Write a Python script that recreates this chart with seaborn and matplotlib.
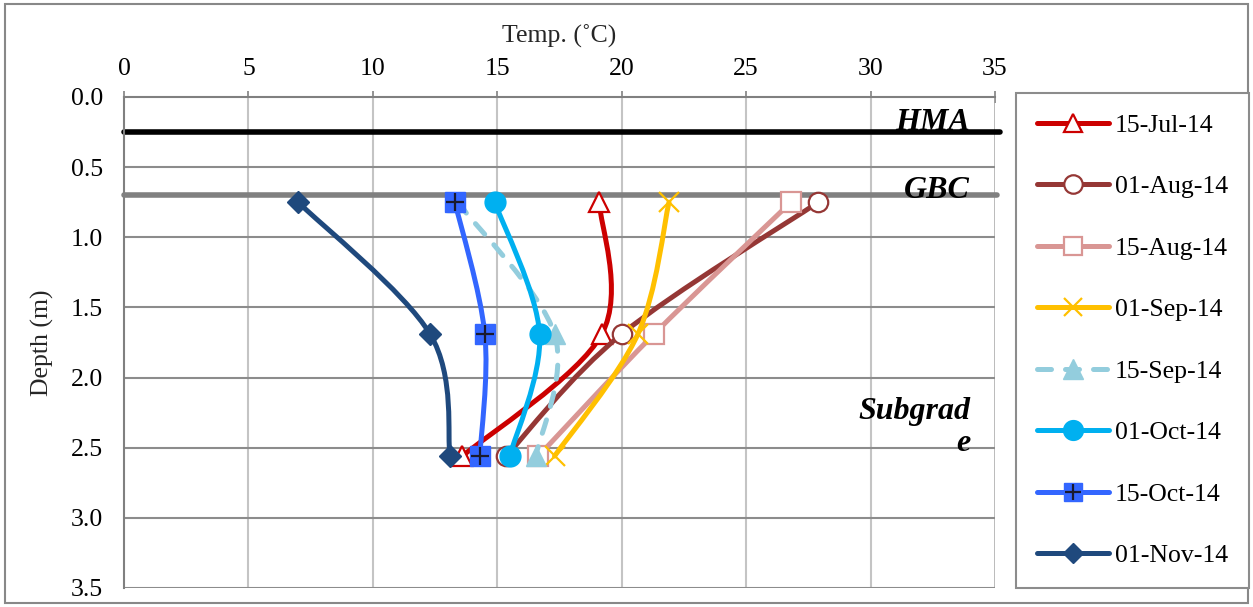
import numpy as np
import matplotlib
matplotlib.use("Agg")
import matplotlib.pyplot as plt
from matplotlib.path import Path
from matplotlib.patches import PathPatch, Rectangle
from matplotlib.lines import Line2D
from matplotlib.legend_handler import HandlerTuple
import seaborn as sns

# Sensor depths (m) and measured temperatures (deg C)
depth = [0.75, 1.69, 2.56]
dates = ["15-Jul-14", "01-Aug-14", "15-Aug-14", "01-Sep-14",
         "15-Sep-14", "01-Oct-14", "15-Oct-14", "01-Nov-14"]
t_15jul = [19.1, 19.2, 13.6]
t_01aug = [27.9, 20.0, 15.35]
t_15aug = [26.8, 21.3, 16.65]
t_01sep = [21.9, 20.65, 17.3]
t_15sep = [13.4, 17.3, 16.55]
t_01oct = [14.9, 16.7, 15.5]
t_15oct = [13.3, 14.5, 14.3]
t_01nov = [7.0, 12.3, 13.1]
temps = [t_15jul, t_01aug, t_15aug, t_01sep, t_15sep, t_01oct, t_15oct, t_01nov]

# Layer boundaries (m)
hma_depth = 0.25
gbc_depth = 0.70

x_ticks = [0, 5, 10, 15, 20, 25, 30, 35]
y_ticks = [0.0, 0.5, 1.0, 1.5, 2.0, 2.5, 3.0, 3.5]

styles = [
    dict(color="#CC0000", marker="^", mfc="white", ms=14, ls="-"),
    dict(color="#953735", marker="o", mfc="white", ms=14, ls="-"),
    dict(color="#D99694", marker="s", mfc="white", ms=14, ls="-"),
    dict(color="#FFC000", marker="x", mfc="#FFC000", ms=14, ls="-"),
    dict(color="#93CDDD", marker="^", mfc="#93CDDD", ms=15, ls=(0, (2.8, 2.8))),
    dict(color="#00B0F0", marker="o", mfc="#00B0F0", ms=15, ls="-"),
    dict(color="#3366FF", marker="s", mfc="#3366FF", ms=14, ls="-"),
    dict(color="#1F497D", marker="D", mfc="#1F497D", ms=11, ls="-"),
]

sns.set_theme(style="white")
plt.rcParams["font.family"] = ["Liberation Serif", "DejaVu Serif"]

fig = plt.figure(figsize=(12.53, 6.07), dpi=100)
ax = fig.add_axes([124 / 1253, 1 - 588 / 607, (995 - 124) / 1253, (588 - 97) / 607])

LW = 3.6


def smooth_path(xs, ys):
    """Cubic Bezier through the points, Catmull-Rom style tangents."""
    pts = np.column_stack([xs, ys]).astype(float)
    n = len(pts)
    verts = [pts[0]]
    codes = [Path.MOVETO]
    for i in range(n - 1):
        p_prev = pts[i - 1] if i > 0 else pts[i]
        p_next2 = pts[i + 2] if i + 2 < n else pts[i + 1]
        c1 = pts[i] + (pts[i + 1] - p_prev) / 6.0
        c2 = pts[i + 1] - (p_next2 - pts[i]) / 6.0
        verts += [c1, c2, pts[i + 1]]
        codes += [Path.CURVE4] * 3
    return Path(verts, codes)


handles = []
for k, (label, vals, st) in enumerate(zip(dates, temps, styles)):
    z = 3 + k * 0.1
    patch = PathPatch(smooth_path(vals, depth), facecolor="none",
                      edgecolor=st["color"], lw=LW, linestyle=st["ls"],
                      capstyle="round", joinstyle="round", zorder=z)
    ax.add_patch(patch)
    mew = 1.6 if st["mfc"] == "white" or st["marker"] == "x" else 1.0
    sns.lineplot(x=vals, y=depth, ax=ax, sort=False, estimator=None,
                 linestyle="none", marker=st["marker"], markersize=st["ms"],
                 markerfacecolor=st["mfc"], markeredgecolor=st["color"],
                 markeredgewidth=mew, zorder=z + 0.05, legend=False)
    h = Line2D([], [], color=st["color"], lw=LW, linestyle=st["ls"],
               dash_capstyle="round", solid_capstyle="round",
               marker=st["marker"], markersize=st["ms"] * 0.95,
               markerfacecolor=st["mfc"], markeredgecolor=st["color"],
               markeredgewidth=mew)
    if label == "15-Oct-14":
        sns.lineplot(x=vals, y=depth, ax=ax, sort=False, estimator=None,
                     linestyle="none", marker="+", markersize=13,
                     markeredgecolor="#1a1a2e", markeredgewidth=1.6,
                     zorder=z + 0.06, legend=False)
        plus = Line2D([], [], linestyle="none", marker="+", markersize=12,
                      markeredgecolor="#1a1a2e", markeredgewidth=1.6)
        h = (h, plus)
    handles.append(h)

# Layer boundaries
ax.plot([0, 35.2], [hma_depth, hma_depth], color="black", lw=4.0,
        solid_capstyle="round", clip_on=False, zorder=2.5)
ax.plot([0, 35.1], [gbc_depth, gbc_depth], color="#808080", lw=4.0,
        solid_capstyle="round", clip_on=False, zorder=2.5)

lay_font = dict(fontsize=23, fontweight="bold", fontstyle="italic",
                ha="right", color="black", zorder=6)
ax.text(34.0, 0.235, "HMA", va="baseline", **lay_font)
ax.text(34.0, 0.67, "GBC", va="center", **lay_font)
ax.text(34.0, 2.52, "Subgrad\ne", va="baseline", multialignment="right",
        linespacing=1.12, **lay_font)

# Axes
ax.set_xlim(0, 35)
ax.set_ylim(3.5, 0.0)
ax.set_xticks(x_ticks)
ax.set_yticks(y_ticks)
ax.set_yticklabels([f"{v:.1f}" for v in y_ticks])
ax.xaxis.tick_top()
ax.xaxis.set_label_position("top")
ax.set_xlabel("Temp. (˚C)", fontsize=18.5, labelpad=11)
ax.set_ylabel("Depth (m)", fontsize=18.5, labelpad=12)
ax.tick_params(axis="x", which="major", labelsize=18.5, direction="inout",
               length=9, width=1.2, color="#808080", pad=8, labelcolor="black")
ax.tick_params(axis="y", which="major", labelsize=18.5, direction="out",
               length=5, width=1.2, color="#808080", pad=10, labelcolor="black")

ax.grid(False)
for xv in x_ticks[1:-1]:
    ax.axvline(xv, color="#C4C4C4", lw=1.5, zorder=1)
ax.axvline(35, color="#A6A6A6", lw=1.8, zorder=1)
for yv in y_ticks[1:]:
    ax.axhline(yv, color="#8C8C8C", lw=1.5, zorder=1)

for side in ["right", "bottom"]:
    ax.spines[side].set_visible(False)
for side in ["left", "top"]:
    ax.spines[side].set_color("#808080")
    ax.spines[side].set_linewidth(1.5)

leg = fig.legend(handles, dates, loc="upper left",
                 bbox_to_anchor=(1016 / 1253, 1 - 93 / 607),
                 fontsize=18.5, frameon=True, fancybox=False,
                 edgecolor="#8C8C8C", framealpha=1.0, borderpad=0.8,
                 labelspacing=1.5, handlelength=2.8, handletextpad=0.25,
                 borderaxespad=0.0,
                 handler_map={tuple: HandlerTuple(ndivide=1)})
leg.get_frame().set_linewidth(1.5)
for txt in leg.get_texts():
    txt.set_color("black")

# Outer chart border
fig.add_artist(Rectangle((5 / 1253, 4 / 607), 1 - 10 / 1253, 1 - 8 / 607,
                         transform=fig.transFigure, fill=False,
                         edgecolor="#888888", lw=1.5))

fig.savefig("out.png", dpi=100)
